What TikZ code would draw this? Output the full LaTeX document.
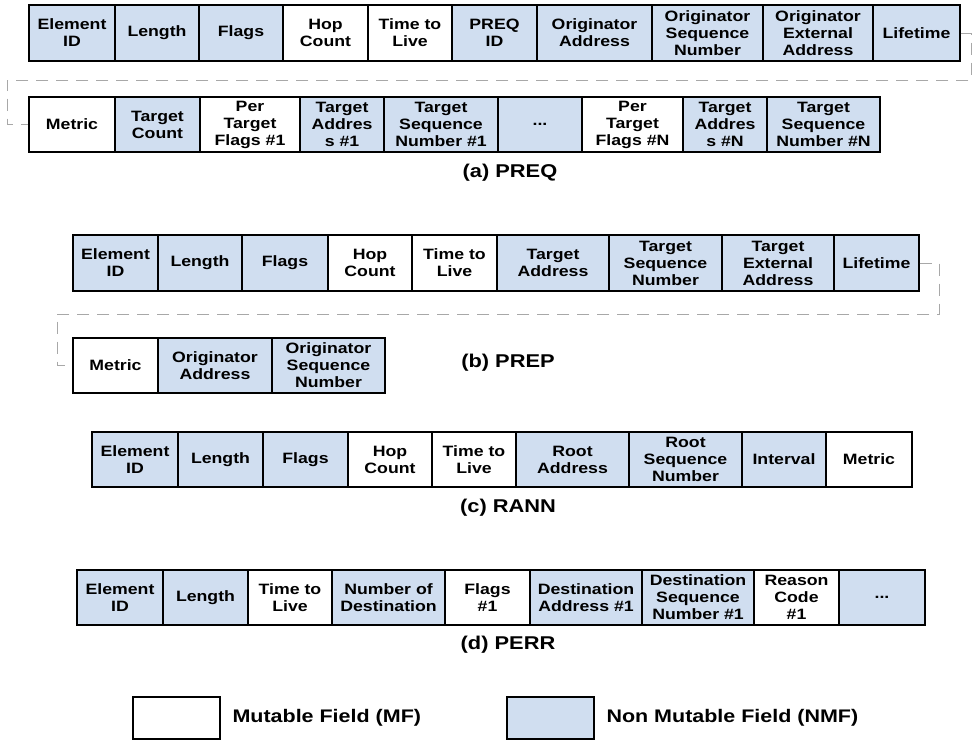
\documentclass[tikz,border=0pt]{standalone}
\usepackage{fontspec}
\setmainfont{Liberation Sans}[FakeStretch=1.18]
\usepackage{tikz}
\usetikzlibrary{positioning, arrows.meta}
\usepackage{xcolor}
\definecolor{nmfblue}{RGB}{208,222,240}
\definecolor{linkgray}{RGB}{168,168,168}
\tikzset{field/.style={draw, rectangle, line width=1.4pt, inner sep=0pt,
            minimum height=55, align=center,
            font=\fontsize{15pt}{17pt}\selectfont\bfseries},
         mf/.style={field, fill=white},
         nmf/.style={field, fill=nmfblue},
         link/.style={draw=linkgray, line width=1pt, dash pattern=on 12pt off 8pt},
         caption/.style={font=\fontsize{18.5pt}{21pt}\selectfont\bfseries},
         legendtext/.style={anchor=west, font=\fontsize{18.2pt}{21pt}\selectfont\bfseries}}

\begin{document}
\begin{tikzpicture}[x=1pt, y=-1pt]
        \useasboundingbox (0,0) rectangle (973,740);

        % PREQ
        \node[nmf, minimum width=86, minimum height=56] (a1) at (72,33) {Element\\ID};
        \node[nmf, minimum width=84, minimum height=56] (a2) at (157,33) {Length};
        \node[nmf, minimum width=84, minimum height=56] (a3) at (241,33) {Flags};
        \node[mf, minimum width=85, minimum height=56] (a4) at (325.5,33) {Hop\\Count};
        \node[mf, minimum width=84, minimum height=56] (a5) at (410,33) {Time to\\Live};
        \node[nmf, minimum width=85, minimum height=56] (a6) at (494.5,33) {PREQ\\ID};
        \node[nmf, minimum width=115, minimum height=56] (a7) at (594.5,33) {Originator\\Address};
        \node[nmf, minimum width=111, minimum height=56] (a8) at (707.5,33) {Originator\\Sequence\\Number};
        \node[nmf, minimum width=110, minimum height=56] (a9) at (818,33) {Originator\\External\\Address};
        \node[nmf, minimum width=87, minimum height=56] (a10) at (916.5,33) {Lifetime};

        \node[mf, minimum width=86] (a11) at (72,124.5) {Metric};
        \node[nmf, minimum width=85] (a12) at (157.5,124.5) {Target\\Count};
        \node[mf, minimum width=100] (a13) at (250,124.5) {Per\\Target\\Flags \#1};
        \node[nmf, minimum width=84] (a14) at (342,124.5) {Target\\Addres\\s \#1};
        \node[nmf, minimum width=114] (a15) at (441,124.5) {Target\\Sequence\\Number \#1};
        \node[nmf, minimum width=84] (a16) at (540,124.5) {...};
        \node[mf, minimum width=101] (a17) at (632.5,124.5) {Per\\Target\\Flags \#N};
        \node[nmf, minimum width=84] (a18) at (725,124.5) {Target\\Addres\\s \#N};
        \node[nmf, minimum width=113] (a19) at (823.5,124.5) {Target\\Sequence\\Number \#N};

        \node[caption] (capa) at (510,173) {(a) PREQ};

        % PREP
        \node[nmf, minimum width=85, minimum height=56] (b1) at (115.5,263) {Element\\ID};
        \node[nmf, minimum width=84, minimum height=56] (b2) at (200,263) {Length};
        \node[nmf, minimum width=86, minimum height=56] (b3) at (285,263) {Flags};
        \node[mf, minimum width=84, minimum height=56] (b4) at (370,263) {Hop\\Count};
        \node[mf, minimum width=85, minimum height=56] (b5) at (454.5,263) {Time to\\Live};
        \node[nmf, minimum width=112, minimum height=56] (b6) at (553,263) {Target\\Address};
        \node[nmf, minimum width=113, minimum height=56] (b7) at (665.5,263) {Target\\Sequence\\Number};
        \node[nmf, minimum width=112, minimum height=56] (b8) at (778,263) {Target\\External\\Address};
        \node[nmf, minimum width=85, minimum height=56] (b9) at (876.5,263) {Lifetime};

        \node[mf, minimum width=85] (b10) at (115.5,365.5) {Metric};
        \node[nmf, minimum width=114] (b11) at (215,365.5) {Originator\\Address};
        \node[nmf, minimum width=113] (b12) at (328.5,365.5) {Originator\\Sequence\\Number};

        \node[caption] (capb) at (508,363) {(b) PREP};

        % RANN
        \node[nmf, minimum width=86] (c1) at (135,459.5) {Element\\ID};
        \node[nmf, minimum width=85] (c2) at (220.5,459.5) {Length};
        \node[nmf, minimum width=85] (c3) at (305.5,459.5) {Flags};
        \node[mf, minimum width=84] (c4) at (390,459.5) {Hop\\Count};
        \node[mf, minimum width=84] (c5) at (474,459.5) {Time to\\Live};
        \node[nmf, minimum width=113] (c6) at (572.5,459.5) {Root\\Address};
        \node[nmf, minimum width=113] (c7) at (685.5,459.5) {Root\\Sequence\\Number};
        \node[nmf, minimum width=84] (c8) at (784,459.5) {Interval};
        \node[mf, minimum width=86] (c9) at (869,459.5) {Metric};

        \node[caption] (capc) at (508,508) {(c) RANN};

        % PERR
        \node[nmf, minimum width=86] (d1) at (120,597.5) {Element\\ID};
        \node[nmf, minimum width=85] (d2) at (205.5,597.5) {Length};
        \node[mf, minimum width=84] (d3) at (290,597.5) {Time to\\Live};
        \node[nmf, minimum width=113] (d4) at (388.5,597.5) {Number of\\Destination};
        \node[mf, minimum width=85] (d5) at (487.5,597.5) {Flags\\\#1};
        \node[nmf, minimum width=112] (d6) at (586,597.5) {Destination\\Address \#1};
        \node[nmf, minimum width=112] (d7) at (698,597.5) {Destination\\Sequence\\Number \#1};
        \node[mf, minimum width=85] (d8) at (796.5,597.5) {Reason\\Code\\\#1};
        \node[nmf, minimum width=86] (d9) at (882,597.5) {...};

        \node[caption] (capd) at (508,645) {(d) PERR};

        % Legend
        \node[mf, minimum width=87, minimum height=42] (lmf) at (176.5,718) {};
        \node[legendtext] (tmf) at (229,718) {Mutable Field (MF)};
        \node[nmf, minimum width=87, minimum height=42] (lnmf) at (550.5,718) {};
        \node[legendtext] (tnmf) at (603,718) {Non Mutable Field (NMF)};

        % Edges
        \coordinate (ra) at (971,80);
        \coordinate (la) at (7,80);
        \draw[link] (a10.east) -| (ra) -- (la) |- (a11.west);
        \coordinate (rb) at (939,314);
        \coordinate (lb) at (57,314);
        \draw[link] (b9.east) -| (rb) -- (lb) |- (b10.west);
    \end{tikzpicture}
\end{document}
